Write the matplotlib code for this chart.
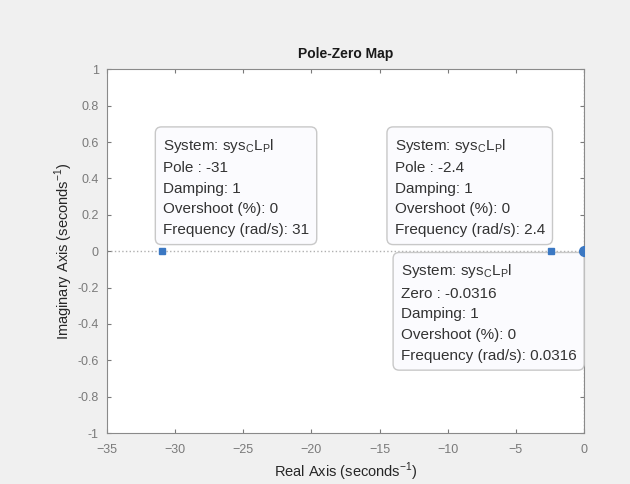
import matplotlib.pyplot as plt
import numpy as np

# pole / zero locations (real parts, all on the real axis)
poles = [-31, -2.4]
zeros = [-0.0316]
damping = [1, 1, 1]
overshoot = [0, 0, 0]
freq_labels = ['31', '2.4', '0.0316']
value_labels = ['-31', '-2.4', '-0.0316']
kinds = ['Pole', 'Pole', 'Zero']

# datatip anchor (upper-left of text) in data coordinates
tip_x = [-30.9, -13.9, -13.45]
tip_y = [0.63, 0.63, -0.06]

xticks = np.arange(-35, 1, 5)
yticks = np.round(np.arange(-1, 1.01, 0.2), 1)
ytick_labels = ['-1', '-0.8', '-0.6', '-0.4', '-0.2', '0', '0.2', '0.4', '0.6', '0.8', '1']

plt.rcParams['font.family'] = ['Liberation Sans', 'DejaVu Sans']
plt.rcParams['mathtext.fontset'] = 'custom'
plt.rcParams['mathtext.rm'] = 'Liberation Sans'

fig = plt.figure(figsize=(6.3, 4.84), dpi=100, facecolor='#f0f0f0')
ax = fig.add_axes([0.170, 0.105, 0.757, 0.752])
ax.set_facecolor('white')

ax.set_xlim(-35, 0)
ax.set_ylim(-1, 1)

# real axis dotted line
ax.axhline(0, color='#b0b0b0', linestyle=':', linewidth=1, zorder=1)
ax.axvline(0, color='#b0b0b0', linestyle=':', linewidth=1, zorder=1)

blue = '#3b78c3'
ax.plot(poles, np.zeros(len(poles)), 's', color=blue, markersize=5, zorder=5)
ax.plot(zeros, np.zeros(len(zeros)), 'o', color=blue, markersize=7, zorder=5)

values = poles + zeros
for i in range(len(values)):
    txt = ('System: sys$_\\mathregular{C}$L$_\\mathregular{P}$l\n'
           f'{kinds[i]} : {value_labels[i]}\n'
           f'Damping: {damping[i]}\n'
           f'Overshoot (%): {overshoot[i]}\n'
           f'Frequency (rad/s): {freq_labels[i]}')
    ax.text(tip_x[i], tip_y[i], txt, ha='left', va='top', fontsize=11,
            color='#333333', linespacing=1.6, zorder=4,
            bbox=dict(boxstyle='round,pad=0.5,rounding_size=0.4',
                      facecolor='#fbfbfe', edgecolor='#c8c8c8', linewidth=1))

ax.set_xticks(xticks)
ax.set_yticks(yticks)
ax.set_yticklabels(ytick_labels)
ax.tick_params(direction='in', length=3, labelsize=9, colors='#7a7a7a',
               top=True, right=True, width=0.8)
ax.tick_params(axis='x', pad=8)
ax.tick_params(axis='y', pad=6)
for sp in ax.spines.values():
    sp.set_color('#8a8a8a')
    sp.set_linewidth(0.8)

ax.set_title('Pole-Zero Map', fontsize=10, fontweight='bold', color='#1a1a1a', pad=8)
ax.set_xlabel('Real Axis (seconds$^{-1}$)', fontsize=10.5, color='#262626', labelpad=3)
ax.set_ylabel('Imaginary Axis (seconds$^{-1}$)', fontsize=10.5, color='#262626', labelpad=2)

plt.savefig('out.png', dpi=100, facecolor=fig.get_facecolor())
